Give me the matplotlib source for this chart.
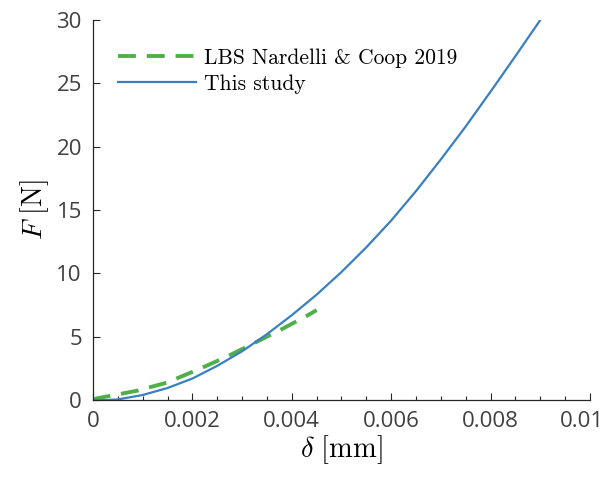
import numpy as np
import matplotlib
matplotlib.use('Agg')
import matplotlib.pyplot as plt
import matplotlib.transforms as mtransforms
from matplotlib.ticker import MultipleLocator

# values
study_d = [0.0, 0.00025, 0.0005, 0.001, 0.0015, 0.002, 0.0025, 0.003, 0.0035,
           0.004, 0.0045, 0.005, 0.0055, 0.006, 0.0065, 0.007, 0.0075, 0.008,
           0.0085, 0.009]
study_f = [0.0, 0.0, 0.05, 0.4, 0.95, 1.7, 2.7, 3.85, 5.2,
           6.7, 8.32, 10.11, 12.06, 14.17, 16.5, 19.0, 21.6, 24.35,
           27.15, 30.0]

lbs_d = [0.0, 0.00007, 0.00088, 0.00148, 0.00209, 0.00269, 0.00323, 0.00383, 0.00433, 0.0045]
lbs_f = [0.0, 0.13, 0.73, 1.37, 2.37, 3.42, 4.47, 5.66, 6.71, 7.1]

xtick_vals = [0, 0.002, 0.004, 0.006, 0.008, 0.01]
xtick_labels = ['0', '0.002', '0.004', '0.006', '0.008', '0.01']

plt.rcParams['mathtext.fontset'] = 'cm'

fig = plt.figure(figsize=(6.09, 4.82), dpi=100)
ax = fig.add_axes([0.1527, 0.170, 0.8161, 0.7885])

ax.plot(lbs_d, lbs_f, color='#4fb04a', lw=2.8, ls=(0, (4.6, 2.8)),
        label='LBS Nardelli & Coop 2019')
ax.plot(study_d, study_f, color='#3a7fc1', lw=1.6, label='This study')

ax.set_xlim(0, 0.01)
ax.set_ylim(0, 30)
ax.xaxis.set_minor_locator(MultipleLocator(0.0005))
ax.yaxis.set_major_locator(MultipleLocator(5))
ax.set_xticks(xtick_vals)
ax.set_xticklabels(xtick_labels)

for s in ['top', 'right']:
    ax.spines[s].set_visible(False)
for s in ['left', 'bottom']:
    ax.spines[s].set_color('#262626')
    ax.spines[s].set_linewidth(0.9)

ax.tick_params(which='both', direction='in', color='#262626', width=0.8)
ax.tick_params(which='major', length=5, pad=8)
ax.tick_params(which='minor', length=3)
for lab in ax.get_xticklabels() + ax.get_yticklabels():
    lab.set_family('Open Sans')
    lab.set_fontsize(16)
    lab.set_color('#404040')

# last x label sits a little left so it stays inside the figure
last = ax.get_xticklabels()[-1]
last.set_transform(last.get_transform() +
                   mtransforms.ScaledTranslation(-6 / 72, 0, fig.dpi_scale_trans))

ax.set_xlabel(r'$\delta\ [\mathrm{mm}]$', fontsize=20.5, labelpad=1)
ax.set_ylabel(r'$F\ [\mathrm{N}]$', fontsize=20, labelpad=4)

ax.legend(loc='upper left', frameon=False, prop={'family': 'cmr10', 'size': 15.5},
          handlelength=3.6, handletextpad=0.4, borderaxespad=0.3,
          labelspacing=0.3, bbox_to_anchor=(0.02, 0.965))

fig.savefig('out.png', dpi=100)
